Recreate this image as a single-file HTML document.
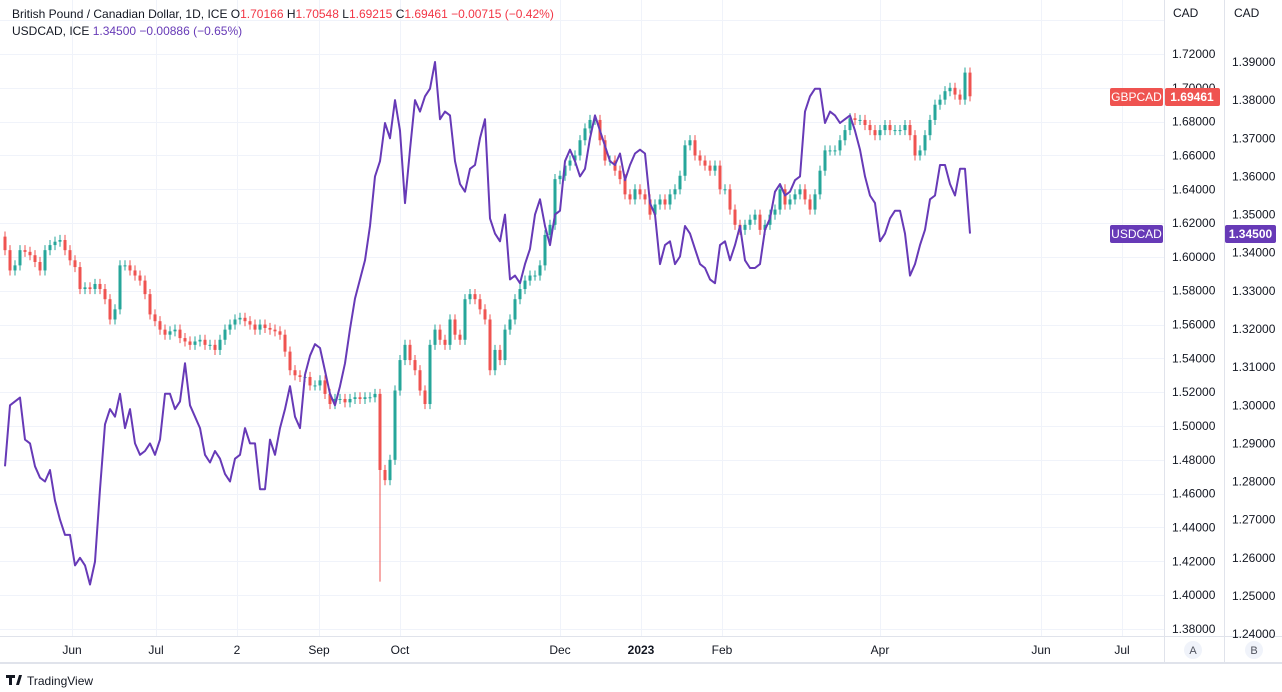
<!DOCTYPE html>
<html><head><meta charset="utf-8"><style>
body{margin:0;background:#fff;font-family:"Liberation Sans",sans-serif;}
svg{display:block}
text{font-family:"Liberation Sans",sans-serif;}
</style></head><body>
<svg id="chart" width="1282" height="692" viewBox="0 0 1282 692" xmlns="http://www.w3.org/2000/svg">
<rect width="1282" height="692" fill="#fff"/>
<g id="grid"></g>
<g id="candles"></g>
<path id="usdline" fill="none" stroke="#673ab7" stroke-width="2" stroke-linejoin="round"/>
<line x1="1164.5" y1="0" x2="1164.5" y2="663" stroke="#e0e3eb"/>
<line x1="1224.5" y1="0" x2="1224.5" y2="663" stroke="#e0e3eb"/>
<line x1="0" y1="636.5" x2="1282" y2="636.5" stroke="#e0e3eb"/>
<line x1="0" y1="663" x2="1282" y2="663" stroke="#e0e3eb" stroke-width="2"/>
<g id="yaxisA"></g>
<g id="yaxisB"></g>
<g id="xaxis"></g>
<rect x="1165" y="0" width="59" height="28" fill="#fff"/><rect x="1225" y="0" width="57" height="28" fill="#fff"/>
<text x="1173" y="17" font-size="12" fill="#131722">CAD</text>
<text x="1234" y="17" font-size="12" fill="#131722">CAD</text>
<text x="12" y="18" font-size="12" fill="#131722">British Pound / Canadian Dollar, 1D, ICE  <tspan fill="#131722">O</tspan><tspan fill="#f23645">1.70166</tspan>  <tspan fill="#131722">H</tspan><tspan fill="#f23645">1.70548</tspan>  <tspan fill="#131722">L</tspan><tspan fill="#f23645">1.69215</tspan>  <tspan fill="#131722">C</tspan><tspan fill="#f23645">1.69461  −0.00715 (−0.42%)</tspan></text>
<text x="12" y="35" font-size="12" fill="#131722">USDCAD, ICE  <tspan fill="#673ab7">1.34500  −0.00886 (−0.65%)</tspan></text>
<g><rect x="1110" y="88" width="53" height="18" rx="2" fill="#ef5350"/><text x="1136.5" y="101" font-size="12" fill="#fff" text-anchor="middle">GBPCAD</text><rect x="1165" y="88" width="55" height="18" rx="2" fill="#ef5350"/><text x="1192" y="101" font-size="12" font-weight="bold" fill="#fff" text-anchor="middle">1.69461</text></g>
<g><rect x="1110" y="225" width="53" height="18" rx="2" fill="#673ab7"/><text x="1136.5" y="238" font-size="12" fill="#fff" text-anchor="middle">USDCAD</text><rect x="1225" y="225" width="51" height="18" rx="2" fill="#673ab7"/><text x="1250.5" y="238" font-size="12" font-weight="bold" fill="#fff" text-anchor="middle">1.34500</text></g>
<g><circle cx="1193" cy="650" r="9" fill="#f0f3fa"/><text x="1193" y="654" font-size="11" fill="#50535e" text-anchor="middle">A</text></g>
<g><circle cx="1254" cy="650" r="9" fill="#f0f3fa"/><text x="1254" y="654" font-size="11" fill="#50535e" text-anchor="middle">B</text></g>
<g><path d="M6 675h9v3h-3v7h-3v-7h-3z M16 685l3-10h3l-3 10z" fill="#131722"/><text x="27" y="685" font-size="12" fill="#131722">TradingView</text></g>
</svg>
<script>
const closes=[1.604,1.592,1.595,1.604,1.603,1.601,1.597,1.592,1.604,1.607,1.609,1.610,1.604,1.598,1.594,1.581,1.582,1.581,1.584,1.581,1.575,1.563,1.569,1.595,1.595,1.592,1.589,1.586,1.578,1.566,1.562,1.557,1.554,1.556,1.557,1.552,1.550,1.548,1.550,1.551,1.548,1.548,1.545,1.551,1.557,1.560,1.563,1.564,1.562,1.560,1.557,1.560,1.558,1.557,1.556,1.554,1.544,1.533,1.530,1.529,1.529,1.524,1.524,1.527,1.519,1.513,1.516,1.516,1.514,1.516,1.517,1.516,1.517,1.517,1.519,1.474,1.468,1.480,1.521,1.539,1.548,1.539,1.533,1.521,1.513,1.548,1.557,1.551,1.548,1.563,1.554,1.551,1.575,1.578,1.575,1.569,1.563,1.533,1.545,1.539,1.557,1.563,1.575,1.581,1.586,1.589,1.589,1.595,1.613,1.619,1.646,1.648,1.654,1.657,1.660,1.669,1.676,1.681,1.681,1.669,1.657,1.657,1.651,1.646,1.637,1.634,1.640,1.637,1.634,1.625,1.631,1.634,1.631,1.637,1.640,1.648,1.666,1.669,1.660,1.657,1.654,1.651,1.654,1.640,1.640,1.628,1.619,1.616,1.619,1.622,1.625,1.616,1.619,1.625,1.628,1.640,1.631,1.634,1.637,1.640,1.634,1.628,1.637,1.651,1.663,1.663,1.663,1.669,1.675,1.682,1.681,1.681,1.678,1.675,1.672,1.675,1.678,1.675,1.675,1.675,1.678,1.672,1.660,1.663,1.672,1.681,1.690,1.693,1.698,1.700,1.696,1.693,1.709,1.695];
const firstOpen=1.612;
const spikeLows=[[75,1.408]];
const usdcad=[1.284,1.300,1.301,1.302,1.291,1.290,1.284,1.281,1.280,1.283,1.275,1.270,1.266,1.266,1.258,1.260,1.258,1.253,1.259,1.278,1.295,1.299,1.297,1.303,1.294,1.299,1.290,1.287,1.288,1.290,1.287,1.291,1.303,1.303,1.299,1.301,1.311,1.300,1.297,1.294,1.287,1.285,1.288,1.286,1.282,1.280,1.286,1.287,1.294,1.290,1.290,1.278,1.278,1.291,1.287,1.294,1.299,1.305,1.297,1.294,1.308,1.313,1.316,1.315,1.309,1.303,1.300,1.305,1.311,1.320,1.328,1.333,1.338,1.347,1.360,1.364,1.374,1.370,1.380,1.372,1.353,1.367,1.380,1.377,1.381,1.383,1.390,1.375,1.377,1.376,1.364,1.358,1.356,1.362,1.363,1.370,1.375,1.349,1.345,1.343,1.350,1.333,1.334,1.332,1.337,1.341,1.350,1.354,1.347,1.342,1.350,1.351,1.364,1.367,1.364,1.360,1.362,1.370,1.376,1.372,1.368,1.364,1.363,1.366,1.359,1.363,1.366,1.367,1.366,1.353,1.350,1.337,1.342,1.343,1.337,1.339,1.347,1.345,1.341,1.337,1.336,1.333,1.332,1.342,1.343,1.338,1.342,1.347,1.338,1.336,1.336,1.337,1.346,1.349,1.356,1.358,1.355,1.356,1.359,1.360,1.377,1.381,1.383,1.383,1.374,1.377,1.376,1.374,1.375,1.376,1.372,1.367,1.360,1.355,1.353,1.343,1.345,1.349,1.351,1.351,1.345,1.334,1.337,1.342,1.346,1.354,1.355,1.363,1.363,1.358,1.355,1.362,1.362,1.345];
const gbpTicks=[1.38,1.40,1.42,1.44,1.46,1.48,1.50,1.52,1.54,1.56,1.58,1.60,1.62,1.64,1.66,1.68,1.70,1.72,1.74];
const usdTicks=[1.24,1.25,1.26,1.27,1.28,1.29,1.30,1.31,1.32,1.33,1.34,1.35,1.36,1.37,1.38,1.39,1.40];
const monthLabels=["Jun","Jul","2","Sep","Oct","Dec","2023","Feb","Apr","Jun","Jul"];
const monthBars=[13.4,30.2,46.4,62.8,79,111,127.2,143.4,175,207.2,223.4];

const NS="http://www.w3.org/2000/svg";
const yA=p=>54+(1.72-p)*1691;
const yB=p=>62+(1.39-p)*3814;
const xBar=i=>5+i*5;
function mk(tag,attrs,parent){const e=document.createElementNS(NS,tag);for(const k in attrs)e.setAttribute(k,attrs[k]);parent.appendChild(e);return e;}
const grid=document.getElementById('grid');
gbpTicks.forEach(t=>{const y=Math.round(yA(t))+0.5;if(y<0||y>636)return;
 const l=mk('line',{x1:0,x2:1164,y1:y,y2:y,stroke:'#f0f3fa'},grid);
 
 });
monthBars.forEach(b=>{const x=Math.round(xBar(b))+0.5;
 const l=mk('line',{x1:x,x2:x,y1:0,y2:636,stroke:'#f0f3fa'},grid);
 
 });
const cg=document.getElementById('candles');
closes.forEach((c,i)=>{const o=i===0?firstOpen:closes[i-1];const up=c>=o;const col=up?'#26a69a':'#ef5350';
 const x=xBar(i);let hi=Math.max(o,c)+0.003,lo=Math.min(o,c)-0.003;
 spikeLows.forEach(s=>{if(s[0]===i)lo=s[1];});
 const w=mk('line',{x1:x,x2:x,y1:yA(hi),y2:yA(lo),stroke:col,'stroke-width':1},cg);
 
 
 const y1=yA(Math.max(o,c)),y2=yA(Math.min(o,c));
 const r=mk('rect',{x:x-1.5,y:y1,width:3,height:Math.max(1,y2-y1),fill:col},cg);
 
 });
document.getElementById('usdline').setAttribute('d',usdcad.map((v,i)=>(i?'L':'M')+xBar(i)+' '+yB(v).toFixed(1)).join(''));
const ya=document.getElementById('yaxisA');
gbpTicks.forEach(t=>{const y=yA(t);if(y<20||y>640)return;
 const tx=mk('text',{x:1172,y:y+4,'font-size':12,fill:'#131722'},ya);tx.textContent=t.toFixed(5);
 
 });
const yb=document.getElementById('yaxisB');
usdTicks.forEach(t=>{const y=yB(t);if(y<20||y>640)return;
 const tx=mk('text',{x:1232,y:y+4,'font-size':12,fill:'#131722'},yb);tx.textContent=t.toFixed(5);
 
 });
const xa=document.getElementById('xaxis');
monthLabels.forEach((m,i)=>{const tx=mk('text',{x:xBar(monthBars[i]),y:654,'font-size':12,fill:'#131722','text-anchor':'middle','font-weight':m==='2023'?'bold':'normal'},xa);tx.textContent=m;
 
 });
</script>
</body></html>
